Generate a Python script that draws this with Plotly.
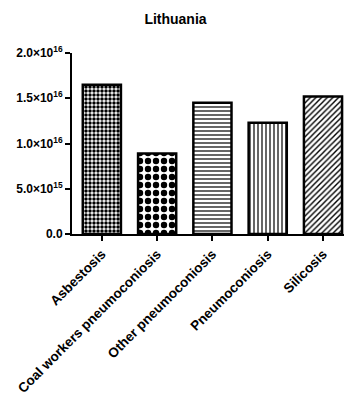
import plotly.graph_objects as go

categories = ["Asbestosis", "Coal workers pneumoconiosis", "Other pneumoconiosis", "Pneumoconiosis", "Silicosis"]
values = [1.65e16, 0.89e16, 1.45e16, 1.23e16, 1.52e16]
patterns = [".", ".", "-", "|", "/"]
pattern_sizes = [4, 8, 4, 4, 4]
pattern_solidity = [0.6, 0.5, 0.3, 0.3, 0.35]
ytick_vals = [0, 5e15, 1e16, 1.5e16, 2e16]
ytick_text = ["0.0", "5.0×10<sup>15</sup>", "1.0×10<sup>16</sup>", "1.5×10<sup>16</sup>", "2.0×10<sup>16</sup>"]

fig = go.Figure()
fig.add_trace(go.Bar(
    x=categories, y=values, width=0.69,
    marker=dict(
        color="white",
        line=dict(color="black", width=2.5),
        pattern=dict(shape=patterns, size=pattern_sizes, solidity=pattern_solidity,
                     fgcolor="black", bgcolor="white", fillmode="replace"),
    ),
))

fig.update_layout(
    width=351, height=397,
    margin=dict(l=72, r=7, t=53, b=163, autoexpand=False),
    paper_bgcolor="white", plot_bgcolor="white",
    showlegend=False,
    font=dict(family="Liberation Sans, Arial", color="black"),
    title=dict(text="Lithuania", x=0.5, xanchor="center", y=1 - 19 / 397, yanchor="middle",
               font=dict(size=14, weight="bold")),
    bargap=0.3,
)
fig.update_xaxes(
    range=[-0.54, 4.38], showline=True, linecolor="black", linewidth=2,
    ticks="outside", ticklen=5, tickwidth=2, tickcolor="black", automargin=False,
    tickangle=-45, tickfont=dict(size=13.5, weight="bold"), showgrid=False,
)
fig.update_yaxes(
    range=[0, 2e16], showline=True, linecolor="black", linewidth=2,
    ticks="outside", ticklen=5, tickwidth=2, tickcolor="black", automargin=False,
    tickvals=ytick_vals, ticktext=ytick_text, tickfont=dict(size=12, weight="bold"),
    showgrid=False, zeroline=False,
)
fig.write_html("out.html")
